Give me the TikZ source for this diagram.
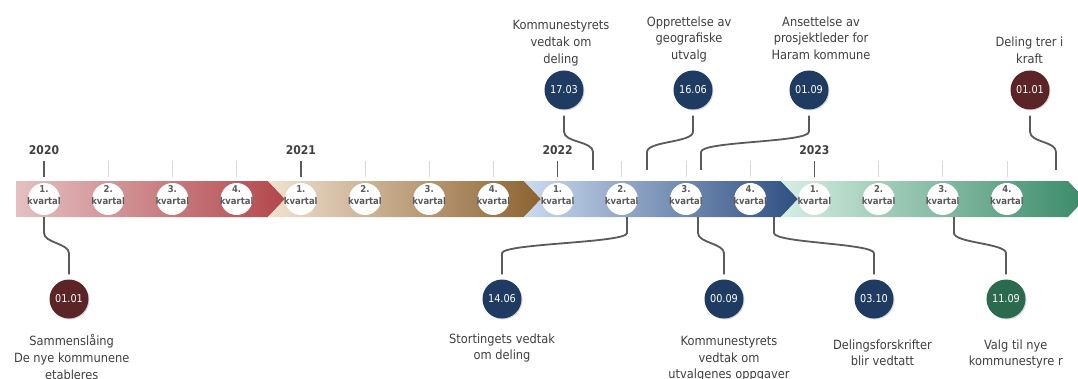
\documentclass[tikz,border=0pt]{standalone}
\usepackage{fontspec}
\setmainfont{DejaVu Sans Condensed}
\usetikzlibrary{shadows}
\definecolor{rosea}{HTML}{E4C0C2}
\definecolor{roseb}{HTML}{B2474B}
\definecolor{sanda}{HTML}{F0E2D0}
\definecolor{sandb}{HTML}{8C6230}
\definecolor{skya}{HTML}{CBDAEE}
\definecolor{skyb}{HTML}{2E4F82}
\definecolor{minta}{HTML}{D6EEE3}
\definecolor{mintb}{HTML}{3A8B69}
\definecolor{navy}{HTML}{1F3B62}
\definecolor{wine}{HTML}{5B2427}
\definecolor{pine}{HTML}{2B6A4E}
\definecolor{ink}{HTML}{404040}
\definecolor{linkgray}{HTML}{5A5A5A}
\definecolor{tickgray}{HTML}{D9D9D9}
\begin{document}
\begin{tikzpicture}[x=1pt,y=1pt,
            quarter/.style={circle,fill=white,minimum size=32pt,inner sep=0pt},
            qtext/.style={align=center,inner sep=0pt,text=linkgray,font=\fontsize{9.4}{12.6}\selectfont\bfseries},
            year/.style={text=ink,font=\fontsize{12}{14}\selectfont\bfseries},
            event/.style={circle,minimum size=39pt,inner sep=0pt,text=white,font=\fontsize{10.8}{12}\selectfont,
                drop shadow={shadow xshift=1pt,shadow yshift=-1pt,opacity=0.3}},
            evtext/.style={align=center,inner sep=0pt,anchor=north,text=ink,font=\fontsize{12.7}{16.6}\selectfont},
            link/.style={draw=linkgray,line width=1.8pt},
            yeartick/.style={draw=linkgray,line width=1.5pt},
            qtick/.style={draw=tickgray,line width=0.8pt}]
            \useasboundingbox (0,0) rectangle (1078,378);
            \fill[white] (0,0) rectangle (1078,378);
            % bar
            \shade[left color=rosea,right color=roseb] (16,161) -- (268,161) -- (285,179) -- (268,197) -- (16,197) -- cycle;
            \shade[left color=sanda,right color=sandb] (268,161) -- (524,161) -- (541,179) -- (524,197) -- (268,197) -- (285,179) -- cycle;
            \shade[left color=skya,right color=skyb] (524,161) -- (781,161) -- (798,179) -- (781,197) -- (524,197) -- (541,179) -- cycle;
            \shade[left color=minta,right color=mintb] (781,161) -- (1068,161) -- (1085,179) -- (1068,197) -- (781,197) -- (798,179) -- cycle;
            \foreach \i in {0,...,15} {
                \pgfmathtruncatemacro\q{mod(\i,4)+1}
                \node[quarter] (q\i) at (44+64.2*\i,179) {};
                \node[qtext] (k\i) at ([yshift=4]q\i.center) {\q.\\kvartal};
            }
            \foreach \i in {1,2,3,5,6,7,9,10,11,13,14,15}
                \draw[qtick] (q\i.center) ++(0,22) -- ++(0,16);
            \foreach \i/\yr in {0/2020,4/2021,8/2022,12/2023} {
                \draw[yeartick] (q\i.center) ++(0,22) -- ++(0,16);
                \node[year] (y\yr) at ([yshift=49]q\i.center) {\yr};
            }
            % events above
            \node[event,fill=navy] (e1703) at (564,288) {17.03};
            \node[event,fill=navy] (e1606) at (693,288) {16.06};
            \node[event,fill=navy] (e0109) at (809,288) {01.09};
            \node[event,fill=wine] (e0101t) at (1030,288) {01.01};
            \node[evtext] (l1703) at (561,357.5) {Kommunestyrets\\vedtak om\\deling};
            \node[evtext] (l1606) at (689,361.8) {Opprettelse av\\geografiske\\utvalg};
            \node[evtext] (l0109) at (821,361.8) {Ansettelse av\\prosjektleder for\\Haram kommune};
            \node[evtext] (l1001t) at (1029.5,341) {Deling trer i\\kraft};
            % events below
            \node[event,fill=wine] (e0101) at (69,79) {01.01};
            \node[event,fill=navy] (e1406) at (502,79) {14.06};
            \node[event,fill=navy] (e0009) at (724,79) {00.09};
            \node[event,fill=navy] (e0310) at (874,79) {03.10};
            \node[event,fill=pine] (e1109) at (1006,79) {11.09};
            \node[evtext] (l0101) at (71.7,43.5) {Sammenslåing\\De nye kommunene\\etableres};
            \node[evtext] (l1406) at (502,44.5) {Stortingets vedtak\\om deling};
            \node[evtext] (l0009) at (729,41.8) {Kommunestyrets\\vedtak om\\utvalgenes oppgaver};
            \node[evtext] (l0310) at (882.5,38.5) {Delingsforskrifter\\blir vedtatt};
            \node[evtext] (l1109) at (1015.8,38.5) {Valg til nye\\kommunestyre r};
            % where the links meet the bar
            \coordinate (t1703) at (593,208);
            \coordinate (t1606) at (647,208);
            \coordinate (t0109) at (701,208);
            \coordinate (t0101) at (1056,208);
            \coordinate (b0101) at (44,161);
            \coordinate (b1406) at (627,161);
            \coordinate (b0009) at (698,161);
            \coordinate (b0310) at (774,161);
            \coordinate (b1109) at (954,161);
            \draw[link] (e1703.south) ++(0,-6) -- ++(0,-16) .. controls +(0,-11) and +(0,11) .. ([yshift=18]t1703) -- (t1703);
            \draw[link] (e1606.south) ++(0,-6) -- ++(0,-16) .. controls +(0,-11) and +(0,11) .. ([yshift=18]t1606) -- (t1606);
            \draw[link] (e0109.south) ++(0,-6) -- ++(0,-16) .. controls +(0,-11) and +(0,11) .. ([yshift=18]t0109) -- (t0109);
            \draw[link] (e0101t.south) ++(0,-6) -- ++(0,-16) .. controls +(0,-11) and +(0,11) .. ([yshift=18]t0101) -- (t0101);
            \draw[link] (b0101) -- ++(0,-16) .. controls +(0,-10) and +(0,10) .. ([yshift=26]e0101.north) -- ([yshift=5]e0101.north);
            \draw[link] (b1406) -- ++(0,-16) .. controls +(0,-10) and +(0,10) .. ([yshift=26]e1406.north) -- ([yshift=5]e1406.north);
            \draw[link] (b0009) -- ++(0,-16) .. controls +(0,-10) and +(0,10) .. ([yshift=26]e0009.north) -- ([yshift=5]e0009.north);
            \draw[link] (b0310) -- ++(0,-16) .. controls +(0,-10) and +(0,10) .. ([yshift=26]e0310.north) -- ([yshift=5]e0310.north);
            \draw[link] (b1109) -- ++(0,-16) .. controls +(0,-10) and +(0,10) .. ([yshift=26]e1109.north) -- ([yshift=5]e1109.north);
        \end{tikzpicture}
\end{document}
